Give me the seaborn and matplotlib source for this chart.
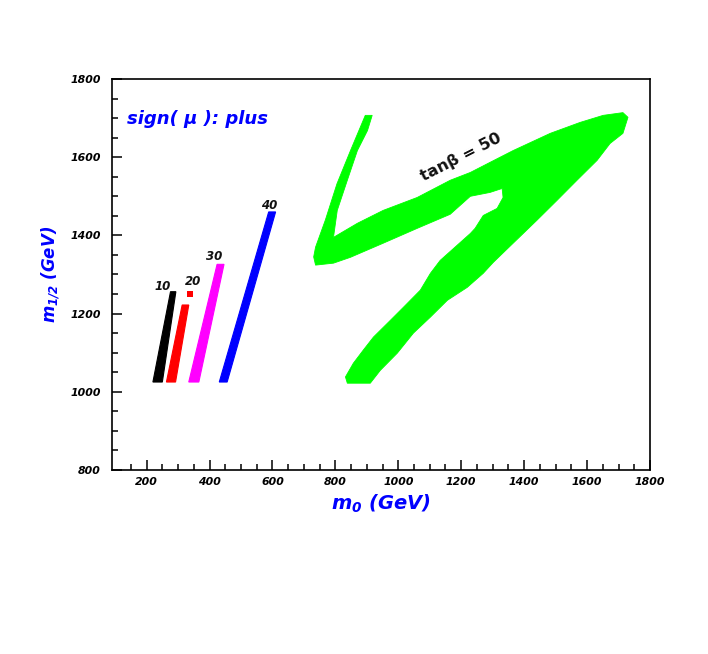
import matplotlib
matplotlib.use("Agg")
import matplotlib.pyplot as plt
from matplotlib.ticker import MultipleLocator
import seaborn as sns
import pandas as pd

# ---------------- data (m0, m1/2 in GeV) ----------------
tanb_labels = ["10", "20", "30", "40"]
band_colors = ["#000000", "#ff0000", "#ff00ff", "#0000ff"]
band_bottom_left = [220, 263, 334, 431]
band_bottom_right = [250, 292, 366, 456]
band_top_left = [276, 313, 424, 588]
band_top_right = [293, 334, 446, 610]
band_m12_bottom = [1025, 1025, 1025, 1025]
band_m12_top = [1256, 1222, 1326, 1460]
label_m0 = [250, 347, 416, 590]
label_m12 = [1269, 1281, 1347, 1477]

# isolated tan(beta)=20 point
extra_m0 = [337]
extra_m12 = [1250]

# tan(beta)=50 allowed region outline
green_m0 = [895, 848, 805, 768, 737, 731, 737, 794, 848, 952, 1060, 1165, 1229,
            1292, 1330, 1333, 1314, 1270, 1244, 1229, 1133, 1102, 1070, 1016,
            975, 921, 889, 857, 832, 838, 911, 943, 997, 1048, 1102, 1156, 1219,
            1270, 1302, 1365, 1441, 1505, 1568, 1632, 1673, 1714, 1730, 1714,
            1651, 1578, 1483, 1365, 1292, 1229, 1165, 1060, 952, 870, 794, 806,
            838, 870, 902, 917]
green_m12 = [1707, 1617, 1532, 1439, 1370, 1345, 1324, 1329, 1344, 1380, 1418,
             1454, 1500, 1510, 1520, 1497, 1469, 1451, 1418, 1405, 1336, 1303,
             1260, 1216, 1183, 1140, 1107, 1073, 1038, 1022, 1022, 1055, 1099,
             1150, 1191, 1234, 1267, 1303, 1331, 1380, 1439, 1490, 1541, 1592,
             1635, 1661, 1702, 1714, 1707, 1689, 1661, 1617, 1587, 1561, 1541,
             1497, 1464, 1431, 1395, 1464, 1541, 1617, 1668, 1707]

x_major_ticks = [200, 400, 600, 800, 1000, 1200, 1400, 1600, 1800]
y_major_ticks = [800, 1000, 1200, 1400, 1600, 1800]

# ---------------- style ----------------
sns.set_style("ticks")
plt.rcParams["font.family"] = ["DejaVu Sans"]
plt.rcParams["mathtext.fontset"] = "custom"
plt.rcParams["mathtext.it"] = "DejaVu Sans:bold:italic"
plt.rcParams["mathtext.rm"] = "DejaVu Sans:bold:italic"
plt.rcParams["mathtext.bf"] = "DejaVu Sans:bold:italic"

fig = plt.figure(figsize=(7.08, 6.54), dpi=100)
fig.patch.set_facecolor("white")
ax = fig.add_axes([112 / 708, 1 - 470 / 654, (650 - 112) / 708, (470 - 79) / 654])
ax.set_facecolor("white")

# green region
ax.fill(green_m0, green_m12, color="#00ff00", lw=0.6, edgecolor="#00ff00")

# tan(beta) bands
for i in range(len(tanb_labels)):
    xs = [band_bottom_left[i], band_bottom_right[i], band_top_right[i], band_top_left[i]]
    ys = [band_m12_bottom[i], band_m12_bottom[i], band_m12_top[i], band_m12_top[i]]
    ax.fill(xs, ys, color=band_colors[i], lw=0.8, edgecolor=band_colors[i])
    ax.text(label_m0[i], label_m12[i], tanb_labels[i], ha="center", va="center",
            fontsize=8.5, fontweight="bold", style="italic", color="#111111")

extra_df = pd.DataFrame({"m0": extra_m0, "m12": extra_m12})
sns.scatterplot(data=extra_df, x="m0", y="m12", marker="s", s=18, color="#ff0000",
                linewidth=0, ax=ax, legend=False)

ax.text(1200, 1599, "tanβ = 50", rotation=27, rotation_mode="anchor",
        ha="center", va="center", fontsize=11.5, fontweight="bold", color="#111111")

ax.text(139, 1685, "sign( μ ): plus", color="#0000ff", fontsize=13,
        fontweight="bold", style="italic", ha="left", va="baseline")

# axes
ax.set_xlim(90, 1800)
ax.set_ylim(800, 1800)
ax.set_xticks(x_major_ticks)
ax.set_yticks(y_major_ticks)
ax.set_xticks(list(range(150, 1800, 50)), minor=True)
ax.yaxis.set_minor_locator(MultipleLocator(50))
ax.tick_params(axis="both", which="both", direction="in", top=False, right=False,
               color="black", width=1.1)
ax.tick_params(axis="both", which="major", length=7)
ax.tick_params(axis="both", which="minor", length=4)
ax.tick_params(axis="x", which="major", pad=5)
ax.tick_params(axis="y", which="major", pad=8)
for lab in ax.get_xticklabels() + ax.get_yticklabels():
    lab.set_fontsize(7.8)
    lab.set_fontweight("bold")
    lab.set_style("italic")
    lab.set_color("black")

for sp in ax.spines.values():
    sp.set_visible(True)
    sp.set_linewidth(1.2)
    sp.set_color("black")

ax.set_xlabel(r"$m_0$ (GeV)", color="#0000ff", fontsize=14, fontweight="bold",
              style="italic")
ax.set_ylabel(r"$m_{1/2}$ (GeV)", color="#0000ff", fontsize=12, fontweight="bold",
              style="italic")
ax.xaxis.set_label_coords(0.5, -0.057)
ax.yaxis.set_label_coords(-0.093, 0.5)

fig.savefig("out.png", dpi=100, facecolor="white")
